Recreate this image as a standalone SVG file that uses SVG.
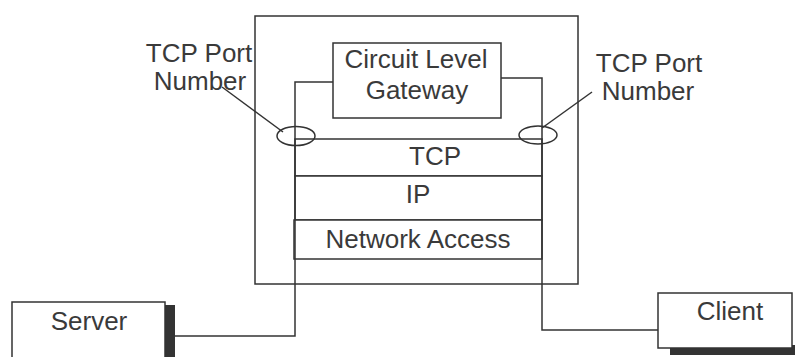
<svg xmlns="http://www.w3.org/2000/svg" width="795" height="357" viewBox="0 0 795 357">
  <style>
    .box { fill: #ffffff; stroke: #333333; stroke-width: 1.5; }
    .line { fill: none; stroke: #333333; stroke-width: 1.5; }
    .shadow { fill: #333333; }
    text { font-family: "Liberation Sans", Arial, sans-serif; font-size: 26px; fill: #3a3a3a; text-anchor: middle; }
  </style>
  <rect width="795" height="357" fill="#ffffff"/>

  <!-- firewall host -->
  <g id="host">
    <rect class="box" x="255" y="16" width="323" height="268"/>
  </g>

  <!-- protocol stack -->
  <g id="tcp">
    <rect class="box" x="295" y="139" width="247" height="37"/>
    <text x="435" y="165">TCP</text>
  </g>
  <g id="ip">
    <rect class="box" x="295" y="176" width="247" height="44"/>
    <text x="418" y="203">IP</text>
  </g>
  <g id="network-access">
    <rect class="box" x="294" y="220" width="248" height="39"/>
    <text x="418" y="248">Network Access</text>
  </g>

  <!-- connectors -->
  <g id="connectors">
    <!-- server path up through the stack into the gateway -->
    <polyline class="line" points="175,336 295,336 295,82 333,82"/>
    <!-- gateway path down through the stack out to the client -->
    <polyline class="line" points="501,78 542,78 542,330 658,330"/>
    <!-- label pointers -->
    <line class="line" x1="222" y1="87" x2="283" y2="132"/>
    <line class="line" x1="592" y1="92" x2="542" y2="128"/>
  </g>

  <!-- port markers -->
  <g id="port-left">
    <ellipse class="line" cx="296" cy="136" rx="19" ry="9.5"/>
  </g>
  <g id="port-right">
    <ellipse class="line" cx="538" cy="135" rx="19" ry="9"/>
  </g>

  <!-- gateway -->
  <g id="gateway">
    <rect class="box" x="333" y="43" width="168" height="75"/>
    <text x="416" y="68">Circuit Level</text>
    <text x="417" y="99">Gateway</text>
  </g>

  <!-- labels -->
  <g id="label-left">
    <text x="199" y="62">TCP Port</text>
    <text x="200" y="90">Number</text>
  </g>
  <g id="label-right">
    <text x="649" y="72">TCP Port</text>
    <text x="648" y="100">Number</text>
  </g>

  <!-- end systems -->
  <g id="server">
    <rect class="shadow" x="165" y="305" width="10" height="60"/>
    <rect class="box" x="12" y="302" width="153" height="70"/>
    <text x="89" y="330">Server</text>
  </g>
  <g id="client">
    <rect class="shadow" x="670" y="345" width="140" height="10"/>
    <rect class="box" x="658" y="293" width="134" height="55"/>
    <text x="730" y="320">Client</text>
  </g>
</svg>
